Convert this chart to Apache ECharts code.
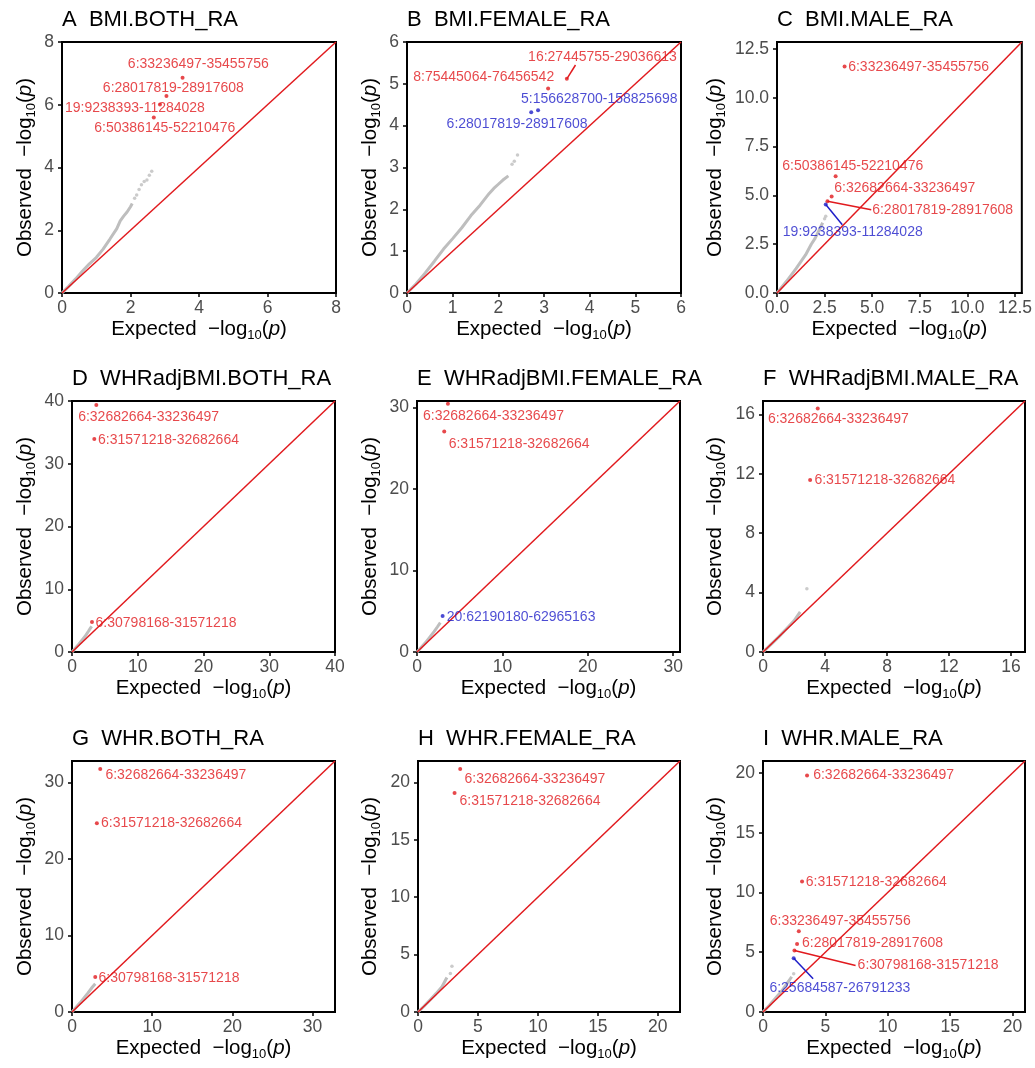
<!DOCTYPE html>
<html><head><meta charset="utf-8">
<script src="https://cdn.jsdelivr.net/npm/echarts@6/dist/echarts.min.js"></script>
<style>html,body{margin:0;padding:0;background:#fff}#c{width:1035px;height:1068px}</style>
</head><body><div id="c"></div>
<script>
// ---------------- DATA ----------------
const panelTitles = ['A  BMI.BOTH_RA','B  BMI.FEMALE_RA','C  BMI.MALE_RA',
  'D  WHRadjBMI.BOTH_RA','E  WHRadjBMI.FEMALE_RA','F  WHRadjBMI.MALE_RA',
  'G  WHR.BOTH_RA','H  WHR.FEMALE_RA','I  WHR.MALE_RA'];
const axisMax = [8, 6, 12.86, 40, 30.8, 16.9, 32.8, 21.85, 21];
const tickValues = [[0,2,4,6,8],[0,1,2,3,4,5,6],[0,2.5,5,7.5,10,12.5],[0,10,20,30,40],
  [0,10,20,30],[0,4,8,12,16],[0,10,20,30],[0,5,10,15,20],[0,5,10,15,20]];
const tickDecimals = [0,0,1,0,0,0,0,0,0];

// grey QQ points: dense body and sparse tail  [expected, observed]
const qqBodyA = [[0,0],[0.2,0.22],[0.4,0.45],[0.6,0.7],[0.8,0.93],[1.0,1.13],[1.2,1.4],[1.4,1.72],[1.6,2.05],[1.7,2.3],[1.8,2.45],[1.9,2.58],[2.0,2.75],[2.05,2.85]];
const qqTailA = [[2.12,3.02],[2.18,3.12],[2.25,3.3],[2.32,3.45],[2.4,3.55],[2.48,3.6],[2.55,3.75],[2.62,3.88]];
const qqBodyB = [[0,0],[0.2,0.22],[0.4,0.48],[0.6,0.76],[0.8,1.05],[1.0,1.3],[1.2,1.56],[1.4,1.85],[1.6,2.1],[1.8,2.38],[1.9,2.5],[2.0,2.6],[2.1,2.7],[2.22,2.8]];
const qqTailB = [[2.3,3.08],[2.35,3.15],[2.42,3.3]];
const qqBodyC = [[0,0],[0.5,0.6],[1.0,1.25],[1.5,1.95],[1.8,2.5],[2.0,2.8],[2.2,3.2],[2.4,3.6]];
const qqTailC = [[2.5,3.8],[2.56,3.93]];
const qqBodyD = [[0,0],[1,1.2],[2,2.5],[2.5,3.3],[2.8,3.8],[3.0,4.1]];
const qqTailD = [];
const qqBodyE = [[0,0],[1,1.15],[2,2.5],[2.4,3.1],[2.73,3.6]];
const qqTailE = [];
const qqBodyF = [[0,0],[0.5,0.5],[1,1.0],[1.5,1.55],[2,2.1],[2.4,2.7]];
const qqTailF = [[2.83,4.26]];
const qqBodyG = [[0,0],[1,1.2],[2,2.5],[2.5,3.2],[2.9,3.7]];
const qqTailG = [];
const qqBodyH = [[0,0],[0.5,0.5],[1,1.05],[1.5,1.6],[2,2.2],[2.41,3.0]];
const qqTailH = [[2.7,3.35],[2.83,3.99]];
const qqBodyI = [[0,0],[0.5,0.55],[1,1.15],[1.5,1.75],[2,2.5],[2.3,2.95]];
const qqTailI = [[2.46,3.19]];

// highlighted regions [expected, observed, label, colour r/b]
const hitsA = [[3.52,6.86,'6:33236497-35455756','r'],[3.05,6.28,'6:28017819-28917608','r'],[2.86,6.01,'19:9238393-11284028','r'],[2.68,5.59,'6:50386145-52210476','r']];
const hitsB = [[3.5,5.12,'16:27445755-29036613','r'],[3.09,4.89,'8:75445064-76456542','r'],[2.87,4.37,'5:156628700-158825698','b'],[2.72,4.32,'6:28017819-28917608','b']];
const hitsC = [[3.55,11.61,'6:33236497-35455756','r'],[3.08,5.98,'6:50386145-52210476','r'],[2.87,4.95,'6:32682664-33236497','r'],[2.65,4.7,'6:28017819-28917608','r'],[2.56,4.53,'19:9238393-11284028','b']];
const hitsD = [[3.7,39.36,'6:32682664-33236497','r'],[3.39,33.96,'6:31571218-32682664','r'],[3.04,4.77,'6:30798168-31571218','r']];
const hitsE = [[3.62,30.45,'6:32682664-33236497','r'],[3.19,27.06,'6:31571218-32682664','r'],[3.0,4.41,'20:62190180-62965163','b']];
const hitsF = [[3.53,16.4,'6:32682664-33236497','r'],[3.04,11.58,'6:31571218-32682664','r']];
const hitsG = [[3.52,31.75,'6:32682664-33236497','r'],[3.1,24.67,'6:31571218-32682664','r'],[2.9,4.59,'6:30798168-31571218','r']];
const hitsH = [[3.52,21.16,'6:32682664-33236497','r'],[3.05,19.07,'6:31571218-32682664','r']];
const hitsI = [[3.53,19.78,'6:32682664-33236497','r'],[3.13,10.92,'6:31571218-32682664','r'],[2.87,6.75,'6:33236497-35455756','r'],[2.73,5.69,'6:28017819-28917608','r'],[2.52,5.14,'6:30798168-31571218','r'],[2.46,4.5,'6:25684587-26791233','b']];

// label anchor (centre) in data units, same order as hits
const labelPosA = [[3.98,7.3],[3.25,6.54],[2.13,5.9],[3.0,5.24]];
const labelPosB = [[4.28,5.64],[1.68,5.15],[4.21,4.63],[2.41,4.03]];
const labelPosC = [[7.44,11.58],[3.98,6.49],[6.71,5.35],[8.7,4.23],[3.98,3.12]];
const labelPosD = [[11.65,37.5],[14.68,33.8],[14.3,4.66]];
const labelPosE = [[8.96,28.98],[11.96,25.55],[12.19,4.29]];
const labelPosF = [[4.86,15.66],[7.86,11.56]];
const labelPosG = [[12.95,31.0],[12.41,24.67],[12.1,4.37]];
const labelPosH = [[9.75,20.23],[9.34,18.34]];
const labelPosI = [[9.67,19.78],[9.08,10.83],[6.19,7.64],[8.78,5.78],[13.23,3.89],[6.16,2.0]];

// repel connector segments [[x0,y0],[x1,y1], colour]
const linksA = [];
const linksB = [[[3.5,5.12],[3.69,5.45],'r']];
const linksC = [[[2.65,4.7],[4.95,4.27],'r'],[[2.56,4.53],[3.43,3.5],'b']];
const linksD = [], linksE = [], linksF = [], linksG = [], linksH = [];
const linksI = [[[2.52,5.14],[7.42,3.89],'r'],[[2.46,4.5],[4.02,2.78],'b']];

// ---------------- LAYOUT ----------------
const qqBody = [qqBodyA,qqBodyB,qqBodyC,qqBodyD,qqBodyE,qqBodyF,qqBodyG,qqBodyH,qqBodyI];
const qqTail = [qqTailA,qqTailB,qqTailC,qqTailD,qqTailE,qqTailF,qqTailG,qqTailH,qqTailI];
const hits = [hitsA,hitsB,hitsC,hitsD,hitsE,hitsF,hitsG,hitsH,hitsI];
const labelPos = [labelPosA,labelPosB,labelPosC,labelPosD,labelPosE,labelPosF,labelPosG,labelPosH,labelPosI];
const links = [linksA,linksB,linksC,linksD,linksE,linksF,linksG,linksH,linksI];

const FONT = '"Liberation Sans", Arial, Helvetica, sans-serif';
const RED = '#E11A1E', BLUE = '#1E1EC8', GREY = '#BEBEBE', TICK = '#4D4D4D';
const col = c => c === 'b' ? BLUE : RED;
const gridLeftPx  = [62,407,777,72,417,763,72,418,763];
const gridRightPx = [336,681,1025,335,680,1025,335,680,1025];
const gridTopPx = [42,401,761];
const gridH = 251;
const colX = [0,345,690];

const nameRich = {
  t: {fontSize: 20.5, fontFamily: FONT, color: '#000', lineHeight: 26},
  i: {fontSize: 20.5, fontFamily: FONT, color: '#000', lineHeight: 26, fontStyle: 'italic'},
  s: {fontSize: 13, fontFamily: FONT, color: '#000', lineHeight: 26, verticalAlign: 'bottom'}
};
const xName = '{t|Expected  \u2212log}{s|10}{t|(}{i|p}{t|)}';
const yName = '{t|Observed  \u2212log}{s|10}{t|(}{i|p}{t|)}';

const option = {backgroundColor: '#fff', animation: false, title: [], grid: [], xAxis: [], yAxis: [], series: []};

for (let i = 0; i < 9; i++) {
  const r = Math.floor(i / 3), c = i % 3;
  const left = gridLeftPx[i], top = gridTopPx[r];
  const width = gridRightPx[i] - left;
  const mx = axisMax[i];
  option.title.push({text: panelTitles[i], left: left, top: top - 33, padding: 0,
    textStyle: {fontSize: 22, fontWeight: 'normal', color: '#000', fontFamily: FONT}});
  option.grid.push({left: left, top: top, width: width, height: gridH, show: true,
    borderColor: '#000', borderWidth: 2, backgroundColor: '#fff'});
  const fmt = v => Number(v).toFixed(tickDecimals[i]);
  const axisCommon = {
    type: 'value', min: 0, max: mx, gridIndex: i, splitLine: {show: false},
    axisLine: {show: true, lineStyle: {color: '#000', width: 2}},
    axisTick: {show: true, length: 4, inside: false, customValues: tickValues[i], lineStyle: {color: '#000', width: 1.5}},
    axisLabel: {customValues: tickValues[i], formatter: fmt, color: TICK, fontSize: 17.5, fontFamily: FONT, margin: 6},
    nameLocation: 'middle', nameTextStyle: {rich: nameRich}
  };
  option.xAxis.push(Object.assign({}, axisCommon, {name: xName, nameGap: 23,
    axisLabel: Object.assign({}, axisCommon.axisLabel, {margin: 6})}));
  option.yAxis.push(Object.assign({}, axisCommon, {name: yName,
    nameGap: left - (colX[c] + 25) - 13,
    axisLabel: Object.assign({}, axisCommon.axisLabel, {margin: 8})}));

  // grey QQ points
  option.series.push({type: 'line', xAxisIndex: i, yAxisIndex: i, data: qqBody[i], symbol: 'none',
    lineStyle: {color: GREY, width: 3}, silent: true, z: 2});
  option.series.push({type: 'scatter', xAxisIndex: i, yAxisIndex: i, data: qqTail[i], symbolSize: 3.5,
    itemStyle: {color: GREY}, silent: true, z: 2});
  // diagonal
  option.series.push({type: 'line', xAxisIndex: i, yAxisIndex: i, data: [[0,0],[mx,mx]], symbol: 'none',
    lineStyle: {color: RED, width: 1.5}, silent: true, z: 3});
  // connectors
  links[i].forEach(l => option.series.push({type: 'line', xAxisIndex: i, yAxisIndex: i, data: [l[0], l[1]],
    symbol: 'none', lineStyle: {color: col(l[2]), width: 1.5}, silent: true, z: 4}));
  // highlighted dots
  option.series.push({type: 'scatter', xAxisIndex: i, yAxisIndex: i, symbolSize: 4, silent: true, z: 5,
    data: hits[i].map(h => ({value: [h[0], h[1]], itemStyle: {color: col(h[3])}}))});
  // labels
  option.series.push({type: 'scatter', xAxisIndex: i, yAxisIndex: i, symbolSize: 0, silent: true, z: 6,
    data: hits[i].map((h, k) => ({value: labelPos[i][k], name: h[2],
      label: {show: true, position: 'inside', formatter: h[2], color: col(h[3]), fontSize: 14, fontFamily: FONT}}))});
}

const chart = echarts.init(document.getElementById('c'), null, {renderer: 'canvas'});
chart.setOption(option);
</script></body></html>
